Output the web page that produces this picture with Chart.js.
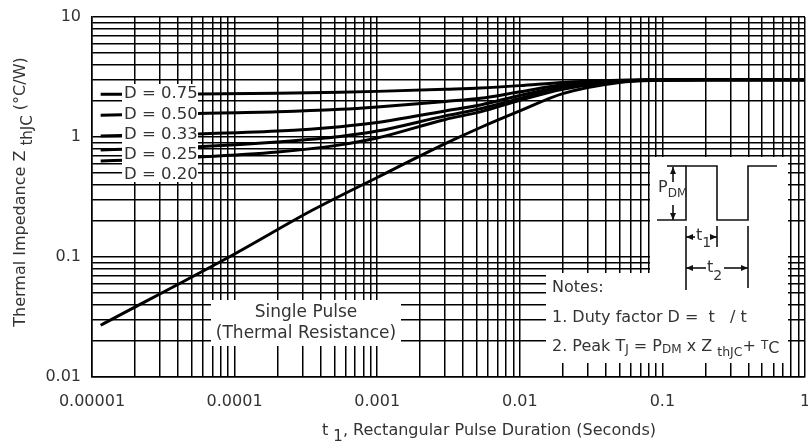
<!DOCTYPE html>
<html><head><meta charset="utf-8">
<script src="https://cdn.jsdelivr.net/npm/chart.js@4"></script>
<style>html,body{margin:0;padding:0;background:#fff;}</style>
</head><body>
<canvas id="c" width="808" height="443"></canvas>
<script>
// ---- data ----
const xDecades = [1e-5, 1e-4, 1e-3, 1e-2, 1e-1, 1];
const xTickLabels = ['0.00001', '0.0001', '0.001', '0.01', '0.1', '1'];
const yDecades = [0.01, 0.1, 1, 10];
const yTickLabels = ['0.01', '0.1', '1', '10'];
const dutyLabels = ['D = 0.75', 'D = 0.50', 'D = 0.33', 'D = 0.25', 'D = 0.20'];

const tSingle = [1.15e-5, 1e-4, 3.5e-4, 1e-3, 3e-3, 5.3e-3, 1e-2, 2e-2, 5e-2, 0.1, 0.2, 1];
const zSingle = [0.027, 0.106, 0.245, 0.46, 0.88, 1.2, 1.65, 2.3, 2.85, 2.97, 3.0, 3.0];

const tDuty = [1.15e-5, 5.5e-5, 2e-4, 5.5e-4, 1e-3, 3e-3, 5.3e-3, 1e-2, 2e-2, 5e-2, 0.1, 0.2, 1];
const zD075 = [2.27, 2.28, 2.31, 2.36, 2.40, 2.50, 2.56, 2.68, 2.85, 2.97, 3.0, 3.0, 3.0];
const zD050 = [1.52, 1.57, 1.62, 1.70, 1.78, 1.98, 2.10, 2.38, 2.72, 2.95, 3.0, 3.0, 3.0];
const zD033 = [1.02, 1.06, 1.12, 1.22, 1.32, 1.65, 1.85, 2.22, 2.62, 2.93, 2.99, 3.0, 3.0];
const zD025 = [0.78, 0.83, 0.91, 1.01, 1.12, 1.50, 1.72, 2.10, 2.55, 2.92, 2.99, 3.0, 3.0];
const zD020 = [0.63, 0.68, 0.75, 0.86, 0.98, 1.40, 1.62, 2.02, 2.50, 2.90, 2.99, 3.0, 3.0];

// ---- helpers ----
const FONT = '"DejaVu Sans"';
function pts(ts, zs) { return ts.map((t, i) => ({ x: t, y: zs[i] })); }
function logTicks(decades, labels) {
  const out = [];
  decades.forEach((d, i) => {
    out.push({ value: d, lbl: labels[i] });
    if (i < decades.length - 1) for (let m = 2; m <= 9; m++) out.push({ value: m * d, lbl: '' });
  });
  return out;
}
function runs(ctx, x, y, parts, base) {
  let cx = x;
  for (const p of parts) {
    ctx.font = (p.s || base) + 'px ' + FONT;
    ctx.fillText(p.t, cx, y + (p.dy || 0));
    cx += ctx.measureText(p.t).width;
  }
  return cx;
}
function runsWidth(ctx, parts, base) {
  let w = 0;
  for (const p of parts) { ctx.font = (p.s || base) + 'px ' + FONT; w += ctx.measureText(p.t).width; }
  return w;
}
function line(ctx, x1, y1, x2, y2) { ctx.beginPath(); ctx.moveTo(x1, y1); ctx.lineTo(x2, y2); ctx.stroke(); }
function head(ctx, x, y, dir) {
  ctx.beginPath();
  const L = 7, W = 3;
  if (dir === 'l') { ctx.moveTo(x, y); ctx.lineTo(x + L, y - W); ctx.lineTo(x + L, y + W); }
  if (dir === 'r') { ctx.moveTo(x, y); ctx.lineTo(x - L, y - W); ctx.lineTo(x - L, y + W); }
  if (dir === 'u') { ctx.moveTo(x, y); ctx.lineTo(x - W, y + L); ctx.lineTo(x + W, y + L); }
  if (dir === 'd') { ctx.moveTo(x, y); ctx.lineTo(x - W, y - L); ctx.lineTo(x + W, y - L); }
  ctx.closePath(); ctx.fill();
}

const annot = {
  id: 'annot',
  afterDatasetsDraw(chart) {
    const ctx = chart.ctx;
    ctx.save();
    ctx.fillStyle = '#fff';
    ctx.fillRect(122, 84, 76, 98);     // duty labels
    ctx.fillRect(211, 300, 190, 46);   // single pulse label
    ctx.fillRect(546, 273, 242, 90);   // notes
    ctx.fillRect(650, 157, 138, 133);  // pulse diagram

    ctx.fillStyle = '#333';
    ctx.textBaseline = 'middle';
    ctx.textAlign = 'left';
    ctx.font = '16.5px ' + FONT;
    const dy = [94, 114.5, 135, 155, 175];
    dutyLabels.forEach((l, i) => ctx.fillText(l, 124, dy[i]));
    ctx.textAlign = 'center';
    ctx.font = '17px ' + FONT;
    ctx.fillText('Single Pulse', 306, 313);
    ctx.fillText('(Thermal Resistance)', 306, 334);
    ctx.textAlign = 'left';
    ctx.font = '16px ' + FONT;
    ctx.fillText('Notes:', 552, 288);
    ctx.fillText('1. Duty factor D =  t   / t', 552, 318);
    runs(ctx, 552, 347, [
      { t: '2. Peak T' }, { t: 'J', s: 12, dy: 3 }, { t: ' = P' }, { t: 'DM', s: 12, dy: 3 },
      { t: ' x Z ' }, { t: 'thJC', s: 12.5, dy: 6 }, { t: '+ ' }, { t: 'T', s: 12, dy: -1 }, { t: 'C', dy: 2 }
    ], 16);

    // pulse diagram
    ctx.strokeStyle = '#111'; ctx.fillStyle = '#111'; ctx.lineWidth = 1.6;
    ctx.beginPath();
    ctx.moveTo(657, 220); ctx.lineTo(686, 220); ctx.lineTo(686, 166); ctx.lineTo(717, 166);
    ctx.lineTo(717, 220); ctx.lineTo(748, 220); ctx.lineTo(748, 166); ctx.lineTo(777, 166);
    ctx.stroke();
    line(ctx, 667, 166, 686, 166);
    line(ctx, 673, 167, 673, 182); head(ctx, 673, 167, 'u');
    line(ctx, 673, 205, 673, 220); head(ctx, 673, 220, 'd');
    line(ctx, 686, 226, 686, 290);
    line(ctx, 717, 226, 717, 247);
    line(ctx, 748, 226, 748, 288);
    line(ctx, 686, 237, 695, 237); head(ctx, 686, 237, 'l');
    line(ctx, 710, 237, 717, 237); head(ctx, 717, 237, 'r');
    line(ctx, 686, 268, 706, 268); head(ctx, 686, 268, 'l');
    line(ctx, 724, 268, 748, 268); head(ctx, 748, 268, 'r');
    ctx.fillStyle = '#333';
    runs(ctx, 696, 236, [{ t: 't' }, { t: '1', s: 14, dy: 7 }], 16);
    runs(ctx, 707, 268, [{ t: 't' }, { t: '2', s: 14, dy: 8 }], 16);
    runs(ctx, 658, 188, [{ t: 'P' }, { t: 'DM', s: 12, dy: 6 }], 16);
    ctx.restore();
  },
  afterDraw(chart) {
    const ctx = chart.ctx;
    ctx.save();
    ctx.fillStyle = '#333';
    ctx.textBaseline = 'middle';
    ctx.textAlign = 'left';
    runs(ctx, 322, 431, [{ t: 't ' }, { t: '1', s: 15, dy: 6 }, { t: ', Rectangular Pulse Duration (Seconds)' }], 16);
    const parts = [{ t: 'Thermal Impedance Z ' }, { t: 'thJC', s: 15, dy: 7 }, { t: ' (°C/W)' }];
    const w = runsWidth(ctx, parts, 16);
    ctx.translate(21, 192);
    ctx.rotate(-Math.PI / 2);
    runs(ctx, -w / 2, 0, parts, 16);
    ctx.restore();
  }
};

const ds = (data) => ({ data, borderColor: '#000', borderWidth: 3, pointRadius: 0, fill: false, cubicInterpolationMode: 'monotone' });
const noPad = s => { s.paddingLeft = 0; s.paddingRight = 0; s.paddingTop = 0; s.paddingBottom = 0; };

new Chart(document.getElementById('c'), {
  type: 'line',
  data: {
    datasets: [
      ds(pts(tSingle, zSingle)),
      ds(pts(tDuty, zD075)),
      ds(pts(tDuty, zD050)),
      ds(pts(tDuty, zD033)),
      ds(pts(tDuty, zD025)),
      ds(pts(tDuty, zD020))
    ]
  },
  options: {
    responsive: false, animation: false, devicePixelRatio: 1,
    layout: { padding: { top: 17, right: 3, left: 0, bottom: 0 } },
    plugins: { legend: { display: false }, tooltip: { enabled: false } },
    scales: {
      x: {
        type: 'logarithmic', min: 1e-5, max: 1,
        afterBuildTicks: s => { s.ticks = logTicks(xDecades, xTickLabels); },
        afterFit: s => { s.height = 66; noPad(s); },
        grid: { color: '#000', lineWidth: 1.5, drawTicks: false },
        border: { color: '#000', width: 1.5 },
        ticks: { autoSkip: false, maxRotation: 0, minRotation: 0, padding: 15, color: '#333',
          font: { family: 'DejaVu Sans', size: 16 }, callback: (v, i, t) => t[i].lbl }
      },
      y: {
        type: 'logarithmic', min: 0.01, max: 10,
        afterBuildTicks: s => { s.ticks = logTicks(yDecades, yTickLabels); },
        afterFit: s => { s.width = 92; noPad(s); },
        grid: { color: '#000', lineWidth: 1.5, drawTicks: false },
        border: { color: '#000', width: 1.5 },
        ticks: { autoSkip: false, padding: 11, color: '#333',
          font: { family: 'DejaVu Sans', size: 16 }, callback: (v, i, t) => t[i].lbl }
      }
    }
  },
  plugins: [annot]
});
</script>
</body></html>
